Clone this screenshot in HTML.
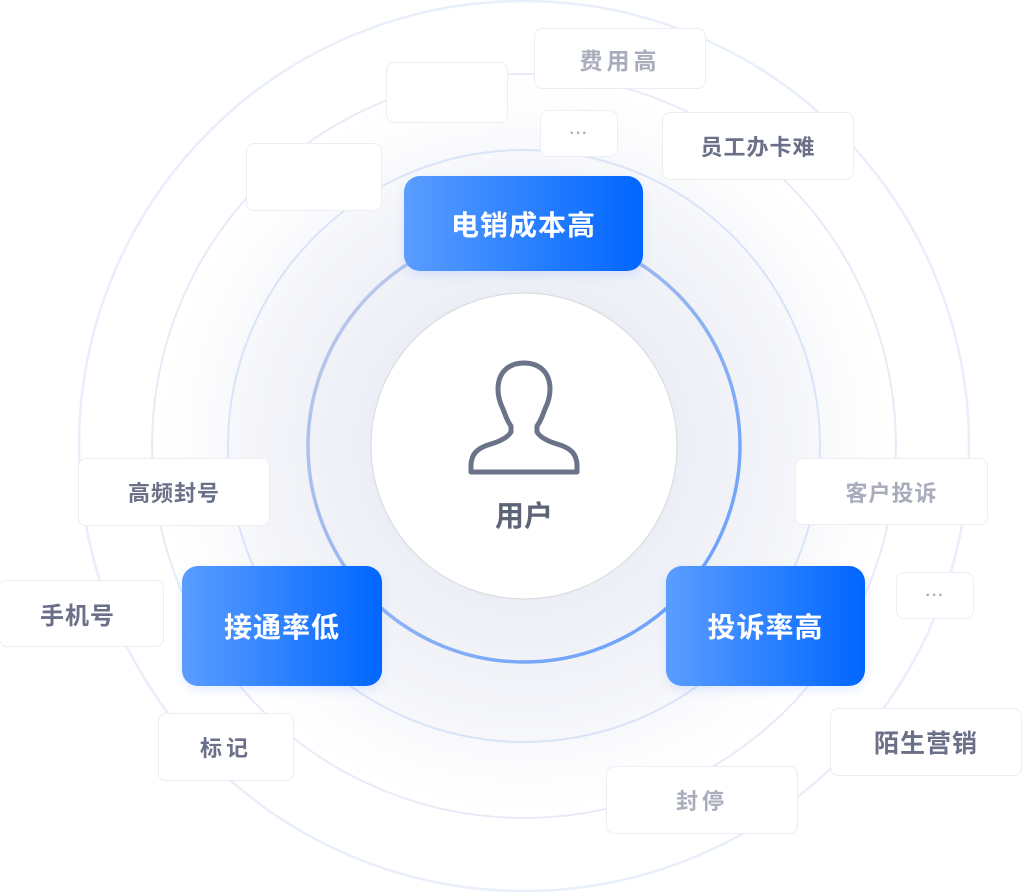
<!DOCTYPE html>
<html><head><meta charset="utf-8"><style>
html,body{margin:0;padding:0;background:#fff}
body{width:1022px;height:892px;position:relative;overflow:hidden;font-family:"Liberation Sans","Noto Sans CJK SC",sans-serif}
.c{position:absolute;background:#fff;border:1px solid #eceef3;border-radius:8px;box-sizing:border-box;display:flex;align-items:center;justify-content:center;font-size:22px;letter-spacing:1px;font-weight:bold}
.b{position:absolute;border-radius:16px;background:linear-gradient(90deg,#5a9dff,#0066ff);color:#fff;font-size:28px;font-weight:bold;display:flex;align-items:center;justify-content:center;letter-spacing:1px;box-shadow:0 4px 10px rgba(30,110,255,.12)}
.d{color:#6b7088}.l{color:#a9adbb}
</style></head><body>
<svg width="1022" height="892" style="position:absolute;left:0;top:0">
<defs>
<radialGradient id="g" cx="524" cy="446" r="370" gradientUnits="userSpaceOnUse">
<stop offset="0.4" stop-color="#eceef6"/><stop offset="0.75" stop-color="#f5f6fa"/><stop offset="1" stop-color="#fbfbfd" stop-opacity="0"/></radialGradient>
<linearGradient id="r" x1="0" y1="0" x2="1" y2="1"><stop offset="0" stop-color="#c7cde6"/><stop offset="1" stop-color="#5f9cff"/></linearGradient>
</defs>
<circle cx="524" cy="446" r="370" fill="url(#g)"/>
<circle cx="524" cy="446" r="445" fill="none" stroke="#e8eefa" stroke-width="2.5"/>
<circle cx="524" cy="446" r="372" fill="none" stroke="#e6ebf7" stroke-width="2"/>
<circle cx="524" cy="446" r="296" fill="none" stroke="#d9e4f8" stroke-width="2"/>
<circle cx="524" cy="446" r="216" fill="none" stroke="url(#r)" stroke-width="3.5"/>
<circle cx="524" cy="446" r="153" fill="#fff" stroke="#d6d8de" stroke-width="1"/>
<g fill="none" stroke="#6b7388" stroke-width="5" stroke-linejoin="round">
<path d="M524 363c-16 0-26 10-26 26 0 8 2 14 5 20 2 5 4 12 8 17v6c-3 5-10 9-20 12-14 4-20 10-20 22v6h106v-6c0-12-6-18-20-22-10-3-17-7-20-12v-6c4-5 6-12 8-17 3-6 5-12 5-20 0-16-10-26-26-26z"/>
</g>
<text x="524" y="526" text-anchor="middle" font-size="29" font-weight="bold" fill="#5e6477" font-family="Liberation Sans,Noto Sans CJK SC,sans-serif">用户</text>
</svg>
<div class="c" style="left:386px;top:62px;width:122px;height:61px"></div>
<div class="c l" style="left:534px;top:28px;width:172px;height:61px;font-size:23px;letter-spacing:4px">费用高</div>
<div class="c l" style="left:540px;top:110px;width:78px;height:47px;font-size:16px">···</div>
<div class="c d" style="left:662px;top:112px;width:192px;height:68px">员工办卡难</div>
<div class="c" style="left:246px;top:143px;width:136px;height:68px"></div>
<div class="c d" style="left:78px;top:458px;width:192px;height:68px">高频封号</div>
<div class="c d" style="left:-1px;top:580px;width:165px;height:67px;justify-content:flex-start;padding-left:40px;font-size:24px">手机号</div>
<div class="c d" style="left:158px;top:713px;width:136px;height:68px;letter-spacing:4px">标记</div>
<div class="c l" style="left:795px;top:458px;width:193px;height:67px">客户投诉</div>
<div class="c l" style="left:896px;top:572px;width:78px;height:47px;font-size:16px">···</div>
<div class="c d" style="left:830px;top:708px;width:192px;height:68px;font-size:25px">陌生营销</div>
<div class="c l" style="left:606px;top:766px;width:192px;height:68px;letter-spacing:4px">封停</div>
<div class="b" style="left:404px;top:176px;width:239px;height:95px">电销成本高</div>
<div class="b" style="left:182px;top:566px;width:200px;height:120px">接通率低</div>
<div class="b" style="left:666px;top:566px;width:199px;height:120px">投诉率高</div>
</body></html>
